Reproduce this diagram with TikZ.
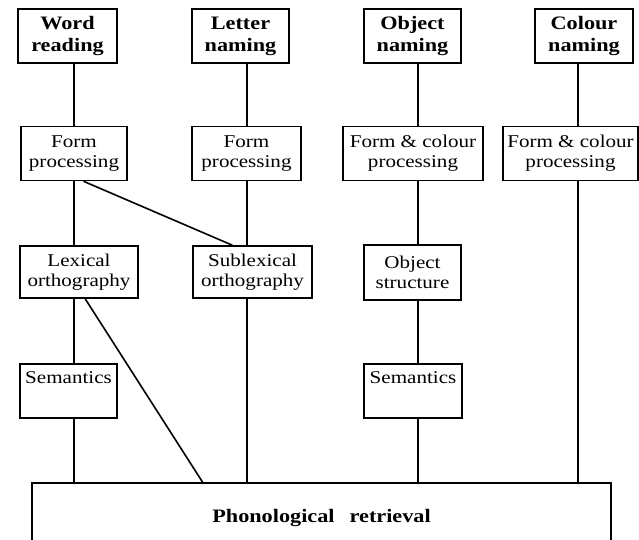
\documentclass[tikz,border=0pt]{standalone}
\usepackage{fontspec}
\setmainfont[FakeStretch=1.17]{Liberation Serif}
\usetikzlibrary{calc}

\tikzset{
    box/.style={draw, line width=1.6pt, align=center, inner sep=0pt, minimum height=54pt,
        font=\fontsize{18}{20}\selectfont},
    task/.style={box, font=\fontsize{19}{22}\selectfont\bfseries},
    sem/.style={anchor=north, minimum height=0pt, text height=20pt, text depth=34pt},
    link/.style={line width=1.6pt}
}

\begin{document}
\begin{tikzpicture}[x=1pt, y=-1pt]
        \useasboundingbox (0,0) rectangle (639,540);

        \node[task, minimum width=99pt] (word) at (67.5,36) {Word\\reading};
        \node[task, minimum width=97pt] (letter) at (240.5,36) {Letter\\naming};
        \node[task, minimum width=97pt] (object) at (412.5,36) {Object\\naming};
        \node[task, minimum width=98pt] (colour) at (584,36) {Colour\\naming};

        \node[box, minimum width=106pt] (formw) at (74,153.5) {Form\\processing};
        \node[box, minimum width=109pt] (forml) at (246.5,153.5) {Form\\processing};
        \node[box, minimum width=140pt] (formo) at (413,153.5) {Form \& colour\\processing};
        \node[box, minimum width=135pt] (formc) at (570.5,153.5) {Form \& colour\\processing};

        \node[box, minimum width=118pt, minimum height=52pt] (lexorth) at (79,272) {Lexical\\orthography};
        \node[box, minimum width=119pt, minimum height=52pt] (sublex) at (252.5,272) {Sublexical\\orthography};
        \node[box, minimum width=97pt, minimum height=55pt] (objstruct) at (412.5,272.5) {Object\\structure};

        \node[box, sem, minimum width=97pt] (semw) at (68.5,363) {Semantics};
        \node[box, sem, minimum width=98pt] (semo) at (413,363) {Semantics};

        \node[task, anchor=north, minimum width=579pt, text height=40pt, text depth=40pt] (phon) at (321.5,482)
            {Phonological\hspace{0.5em} retrieval};

        \coordinate (c1) at (74,0);
        \coordinate (c2) at (247,0);
        \coordinate (c3) at (418,0);
        \coordinate (c4) at (578,0);

        \foreach \a/\b/\c in {word/formw/c1, formw/lexorth/c1, lexorth/semw/c1, semw/phon/c1,
            letter/forml/c2, forml/sublex/c2, sublex/phon/c2,
            object/formo/c3, formo/objstruct/c3, objstruct/semo/c3, semo/phon/c3,
            colour/formc/c4, formc/phon/c4}
            \draw[link] (\a.south -| \c) -- (\b.north -| \c);

        \draw[link] (formw.-71) -- (sublex.127);
        \draw[link] (lexorth.-77) -- ($(phon.north west)!0.295!(phon.north east)$);
    \end{tikzpicture}
\end{document}
